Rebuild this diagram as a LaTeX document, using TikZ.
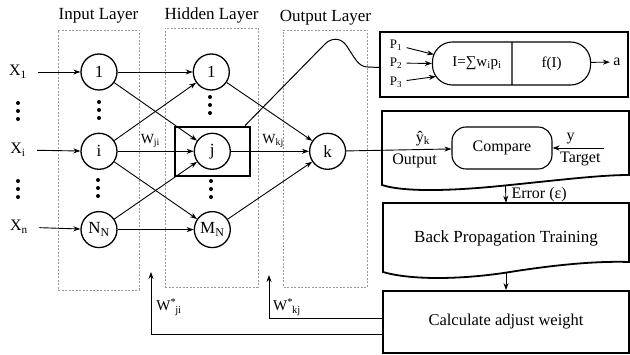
\documentclass[tikz,border=0pt]{standalone}
\usepackage{fontspec}
\setmainfont{Liberation Serif}
\usepackage{tikz}
\usetikzlibrary{shapes.multipart, arrows.meta, positioning}

\newcommand{\fsz}[1]{\fontsize{#1}{#1}\selectfont}

\begin{document}
\begin{tikzpicture}[
        x=1pt, y=-1pt,
        neuron/.style={circle, draw, line width=1.3pt, minimum size=36pt, inner sep=0pt, font=\fsz{17}},
        layer/.style={draw=gray!80, dash pattern=on 2pt off 1.5pt, line width=0.6pt},
        title/.style={font=\fsz{17}},
        lbl/.style={font=\fsz{16}},
        wlbl/.style={font=\fsz{14}},
        box/.style={draw, line width=1.8pt, minimum width=246pt, align=center, font=\fsz{16.5}},
        boxline/.style={line width=1.8pt},
        stadium/.style={draw, line width=1.1pt, minimum height=42pt, font=\fsz{16}},
        arrow/.style={-{Stealth[length=7pt, width=5pt]}, line width=0.9pt},
    ]
        \useasboundingbox (0,0) rectangle (630,355);

        % layers
        \node[layer, minimum width=81pt, minimum height=260pt] (inlay) at (98.5,160) {};
        \node[layer, minimum width=93pt, minimum height=259pt] (hidlay) at (211.5,157.5) {};
        \node[layer, minimum width=84pt, minimum height=257pt] (outlay) at (325.5,158.5) {};
        \node[title, above=3pt of inlay] (intitle) {Input Layer};
        \node[title, above=1pt of hidlay] (hidtitle) {Hidden Layer};
        \node[title, above=1pt of outlay] (outtitle) {Output Layer};

        % neurons
        \node[neuron] (in1) at (99,72) {1};
        \node[neuron, below=42pt of in1] (ini) {i};
        \node[neuron, below=41pt of ini] (inN) {N\textsubscript{N}};
        \node[neuron, right=75pt of in1] (hid1) {1};
        \node[neuron, right=76pt of ini] (hidj) {j};
        \node[neuron, right=76pt of inN] (hidM) {M\textsubscript{N}};
        \node[neuron, right=78pt of hidj] (outk) {k};
        \node[draw, line width=2.3pt, minimum width=75pt, minimum height=49pt] (jbox) at (hidj) {};

        \node[lbl] (x1) at (18,72) {X\textsubscript{1}};
        \node[lbl] (xi) at (18,150) {X\textsubscript{i}};
        \node[lbl] (xn) at (19,227) {X\textsubscript{n}};

        \foreach \x/\y in {18/103, 99/102, 210/97, 18/181, 98/180, 211/181}
            \foreach \k in {0,8,16}
                \fill (\x,\y+\k) circle (2pt);

        \draw[arrow, shorten <=8pt] (x1) -- (in1);
        \draw[arrow, shorten <=8pt] (xi) -- (ini);
        \draw[arrow, shorten <=8pt] (xn) -- (inN);
        \draw[arrow] (in1) -- (hid1);
        \draw[arrow] (in1) -- (hidj);
        \draw[arrow] (ini) -- (hid1);
        \draw[arrow] (ini) -- node[wlbl, above, pos=0.43] {W\textsubscript{ji}} (hidj);
        \draw[arrow] (ini) -- (hidM);
        \draw[arrow] (inN) -- (hidj);
        \draw[arrow] (inN) -- (hidM);
        \draw[arrow] (hid1) -- (outk);
        \draw[arrow] (hidj) -- node[wlbl, above, pos=0.54] {W\textsubscript{kj}} (outk);
        \draw[arrow] (hidM) -- (outk);

        % single neuron
        \node[draw, line width=1.8pt, minimum width=248pt, minimum height=65pt] (topbox) at (504,64.5) {};
        \node[stadium, rectangle split, rectangle split horizontal, rectangle split parts=2,
              rounded corners=20pt, inner xsep=3pt, minimum height=43pt, font=\fsz{15}] (unit) at (511.5,63.5)
              {\makebox[73pt]{\hspace{10pt}I=∑w\textsubscript{i}p\textsubscript{i}}\nodepart{two}\makebox[72pt]{f(I)}};
        \node[font=\fsz{13}] (p1) at (396,45) {P\textsubscript{1}};
        \node[font=\fsz{13}] (p2) at (396,63) {P\textsubscript{2}};
        \node[font=\fsz{13}] (p3) at (396,82) {P\textsubscript{3}};
        \node[lbl] (aout) at (617,62) {a};
        \draw[arrow, shorten <=1pt] (p1) -- ([xshift=2pt, yshift=9pt]unit.west);
        \draw[arrow, shorten <=1pt] (p2) -- (unit.west);
        \draw[arrow, shorten <=1pt] (p3) -- ([xshift=4pt, yshift=-13pt]unit.west);
        \draw[arrow] (unit) -- (aout);
        \draw[line width=1pt] ([xshift=-6pt]jbox.north east) -- (325,44)
            .. controls (331,38) and (340,37) .. (346,45)
            .. controls (355,58) and (358,67) .. (368,67) -- ([yshift=-3pt]topbox.west);

        % training
        \node[minimum width=247pt, minimum height=75pt] (cmpbox) at (505.5,148.5) {};
        \draw[boxline] (382,185) -- (382,111) -- (629,111) -- (629,175)
            .. controls (600,175) and (560,180) .. (500,186)
            .. controls (440,192) and (400,191) .. (382,185) -- cycle;
        \node[stadium, rounded corners=14pt, minimum width=100pt] (cmp) at (502,148) {Compare};
        \coordinate (tgt) at (604,148);
        \draw[arrow] (outk) -- node[lbl, above, pos=0.73] {ŷ\textsubscript{k}}
                                node[lbl, below, pos=0.65] {Output} (cmp);
        \draw[arrow] (tgt) -- node[lbl, above, pos=0.65] {y}
                              node[lbl, below, pos=0.46] {Target} (cmp);

        \node[minimum width=246pt, minimum height=70pt, font=\fsz{17}] (bp) at (506,238) {Back Propagation Training};
        \draw[boxline] (383,272) -- (383,203) -- (629,203) -- (629,262)
            .. controls (600,261) and (560,264) .. (510,272)
            .. controls (460,280) and (410,280) .. (383,272) -- cycle;
        \draw[arrow] (cmpbox.south) -- node[lbl, right=2pt] {Error (ε)} (bp.north);

        \node[box, minimum height=62pt] (calc) at (506,322) {Calculate adjust weight};
        \draw[arrow] (bp.south) -- (calc.north);

        \coordinate (wkj) at (269,275);
        \coordinate (wji) at (151,272);
        \draw[arrow] ([yshift=4pt]calc.west) -| (wkj);
        \draw[arrow] ([yshift=-12pt]calc.west) -| (wji);
        \node[wlbl, font=\fsz{15}] (wkjlbl) at (287,307) {W\textsuperscript{*}\kern-1pt\textsubscript{kj}};
        \node[wlbl, font=\fsz{15}] (wjilbl) at (169,307) {W\textsuperscript{*}\kern-1pt\textsubscript{ji}};
    \end{tikzpicture}
\end{document}
